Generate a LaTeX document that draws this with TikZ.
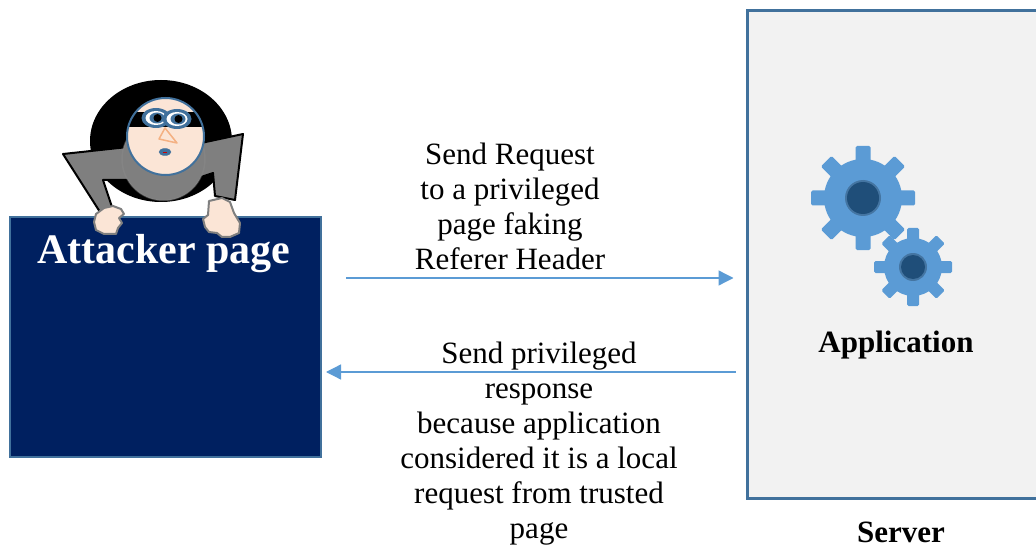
\documentclass[tikz,border=0pt]{standalone}
\usepackage{xcolor, fontspec}
\setmainfont{Liberation Serif}
\usepackage{tikz}
\usetikzlibrary{arrows.meta}

\definecolor{navy}{HTML}{002060}
\definecolor{steel}{HTML}{41719C}
\definecolor{skyblue}{HTML}{5B9BD5}
\definecolor{hubblue}{HTML}{1F4E79}
\definecolor{panel}{HTML}{F2F2F2}
\definecolor{skin}{HTML}{FBE5D6}
\definecolor{shirt}{HTML}{7F7F7F}
\definecolor{nosecol}{HTML}{F4B183}

% #1 centre, #2 tip radius, #3 body radius, #4 tooth width, #5 hub radius
\newcommand{\gearwheel}[5]{
	\fill[skyblue] (#1) circle[radius=#3];
	\foreach \a in {0,45,...,315}
		\fill[skyblue, rounded corners=1.5pt, shift={(#1)}, rotate=\a] (-#4/2,0) rectangle (#4/2,#2);
	\fill[steel!90!skyblue] (#1) circle[radius=#5+2];
	\fill[hubblue] (#1) circle[radius=#5];
}

\begin{document}
\begin{tikzpicture}
[
x=1pt, y=-1pt,
txt/.style={font=\fontsize{31}{35}\selectfont, align=center, inner sep=0pt},
boldtxt/.style={font=\fontsize{31}{35}\selectfont\bfseries, inner sep=0pt},
attackbox/.style={draw=steel, line width=2pt, fill=navy, minimum width=311pt, minimum height=240pt},
serverbox/.style={draw=steel, line width=3pt, fill=panel, minimum width=303pt, minimum height=487pt},
msg/.style={draw=skyblue, line width=1.3pt, -{Triangle[length=15pt,width=15pt]}},
fist/.style={draw=shirt, line width=2pt, fill=skin, line join=round}]
\clip (0,0) rectangle (1036,548);

% server side
\node[serverbox] (server) at (898.5,254.5) {};
\gearwheel{863,198}{52}{39}{15}{16}
\gearwheel{913,267}{39}{29}{12}{12}
\node[boldtxt] (app) at (896,345) {Application};
\node[boldtxt] (srvlabel) at (901,532) {Server};

% the attacker
\fill[black] (161,141) ellipse[x radius=71, y radius=61];
\filldraw[fill=shirt, draw=black, line width=2pt, line join=round] (63,154) -- (128,147) -- (187,146) -- (243,134) -- (235,200) -- (215,196) -- (213,173) -- (201,177) -- (125,180) -- (103,180) -- (112,207) -- (100,212) -- cycle;
\filldraw[fill=shirt, draw=black!45, draw opacity=0.4, line width=1.5pt] (163.5,159) circle[radius=41.5];
\fill[skin] (165.5,136.5) circle[radius=38.5];
\begin{scope}
	\clip (165.5,136.5) circle[radius=38.5];
	\fill[black] (120,112) rectangle (210,127);
\end{scope}
\draw[steel, line width=2pt] (165.5,136.5) circle[radius=38.5];
\foreach \ex/\ey in {156/118, 177/119}{
	\fill[steel] (\ex,\ey) ellipse[x radius=14.5, y radius=10];
	\fill[white] (\ex,\ey) ellipse[x radius=10.5, y radius=7];
	\fill[steel] (\ex+1,\ey) ellipse[x radius=7.5, y radius=5.5];
	\fill[black] (\ex+1.5,\ey) circle[radius=4];
}
\draw[nosecol, line width=1.5pt, line join=round] (165,128) -- (177,143) -- (159,139) -- cycle;
\filldraw[fill=steel, draw=steel] (165,152) ellipse[x radius=6, y radius=3.5];
\draw[red!80!black, line width=0.8pt] (163,152) -- (167,152);

\node[attackbox] (attacker) at (165.5,337) {};
\node[font=\fontsize{42}{46}\selectfont\bfseries, text=white, inner sep=0pt] (attacktitle) at (164,254) {Attacker page};
\draw[fist] (96,214) -- (104,208) -- (113,206) -- (121,209) -- (124,214) -- (119,218) -- (122,223) -- (118,228) -- (116,234) -- (104,234) -- (96,230) -- (94,222) -- cycle;
\draw[fist] (209,201) -- (222,198) -- (230,202) -- (234,213) -- (240,223) -- (239,233) -- (230,237) -- (222,237) -- (217,233) -- (209,232) -- (205,227) -- (203,219) -- (208,215) -- cycle;

% messages
\coordinate (reqlevel) at (0,278);
\coordinate (resplevel) at (0,372);
\draw[msg, shorten <=24pt, shorten >=12pt] (attacker.east |- reqlevel) -- (server.west |- reqlevel);
\draw[msg, shorten <=10pt, shorten >=4pt] (server.west |- resplevel) -- (attacker.east |- resplevel);
\node[txt] (reqtext) at (510,206) {Send Request\\to a privileged\\page faking\\Referer Header};
\node[txt] (resptext) at (539,444) {Send privileged\\response\\because application\\considered it is a local\\request from trusted\\page};
\end{tikzpicture}
\end{document}
